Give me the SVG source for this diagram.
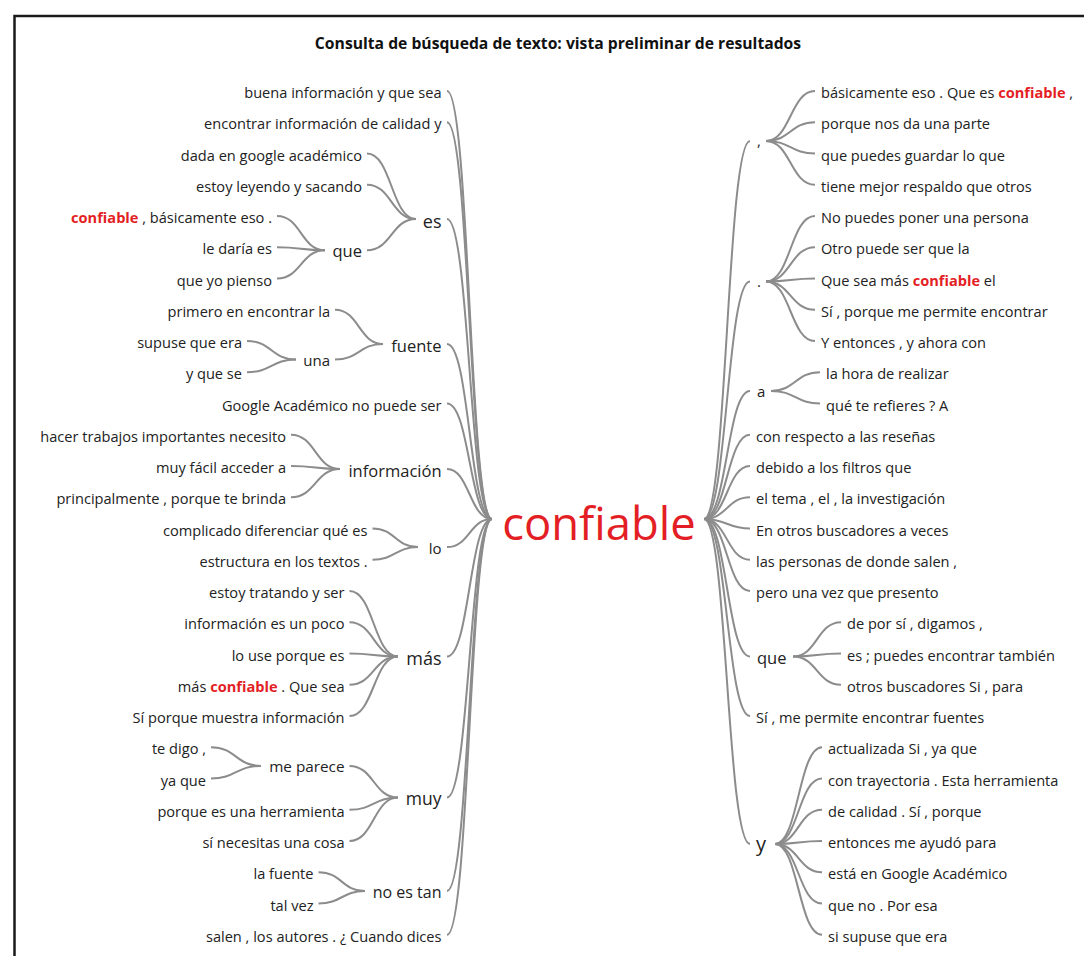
<svg xmlns="http://www.w3.org/2000/svg" width="1084" height="956" viewBox="0 0 1084 956">
<style>
text{font-family:"Open Sans","Noto Sans",sans-serif;font-size:14.6px;fill:#222;font-variant-ligatures:none}
.e{text-anchor:end}
.hl{font-weight:bold;fill:#e31e24}
.title{font-weight:bold;font-size:15.7px;text-anchor:middle;fill:#111}
.root{font-size:45.4px;fill:#e31e24;text-anchor:middle}
.c path{fill:none;stroke:#8c8c8c;stroke-width:2}
</style>
<rect width="1084" height="956" fill="#fff"/>
<path d="M14.5,956 V16 H1084" fill="none" stroke="#1a1a1a" stroke-width="2.5"/>
<text id="title" class="title" x="558" y="49">Consulta de búsqueda de texto: vista preliminar de resultados</text>

<g class="c" id="connectors">
<!-- left: root -->
<path d="M447,91 C469.5,91 469.5,519 492,519"/>
<path d="M447,122.25 C469.5,122.25 469.5,519 492,519"/>
<path d="M447,219 C469.5,219 469.5,519 492,519"/>
<path d="M447,344 C469.5,344 469.5,519 492,519"/>
<path d="M447,403.5 C469.5,403.5 469.5,519 492,519"/>
<path d="M447,469 C469.5,469 469.5,519 492,519"/>
<path d="M447,547.1 C469.5,547.1 469.5,519 492,519"/>
<path d="M447,656.5 C469.5,656.5 469.5,519 492,519"/>
<path d="M447,797.6 C469.5,797.6 469.5,519 492,519"/>
<path d="M447,891 C469.5,891 469.5,519 492,519"/>
<path d="M447,934.75 C469.5,934.75 469.5,519 492,519"/>
<!-- es -->
<path d="M367,153.5 C391.5,153.5 391.5,219 416,219"/>
<path d="M367,184.75 C391.5,184.75 391.5,219 416,219"/>
<path d="M367,250.25 C391.5,250.25 391.5,219 416,219"/>
<!-- que (left) -->
<path d="M277,216 C301,216 301,250.25 325,250.25"/>
<path d="M277,247.25 C301,247.25 301,250.25 325,250.25"/>
<path d="M277,278.5 C301,278.5 301,250.25 325,250.25"/>
<!-- fuente -->
<path d="M335,309.75 C359,309.75 359,344 383,344"/>
<path d="M335,359.6 C359,359.6 359,344 383,344"/>
<!-- una -->
<path d="M247,341 C271.5,341 271.5,359.6 296,359.6"/>
<path d="M247,372.25 C271.5,372.25 271.5,359.6 296,359.6"/>
<!-- informacion -->
<path d="M291,434.75 C315.5,434.75 315.5,469 340,469"/>
<path d="M291,466 C315.5,466 315.5,469 340,469"/>
<path d="M291,497.25 C315.5,497.25 315.5,469 340,469"/>
<!-- lo -->
<path d="M372.5,528.5 C395.25,528.5 395.25,547.1 418,547.1"/>
<path d="M372.5,559.75 C395.25,559.75 395.25,547.1 418,547.1"/>
<!-- mas -->
<path d="M349.5,591 C373.75,591 373.75,656.5 398,656.5"/>
<path d="M349.5,622.25 C373.75,622.25 373.75,656.5 398,656.5"/>
<path d="M349.5,653.5 C373.75,653.5 373.75,656.5 398,656.5"/>
<path d="M349.5,684.75 C373.75,684.75 373.75,656.5 398,656.5"/>
<path d="M349.5,716 C373.75,716 373.75,656.5 398,656.5"/>
<!-- muy -->
<path d="M349.5,765.9 C373.75,765.9 373.75,797.6 398,797.6"/>
<path d="M349.5,809.75 C373.75,809.75 373.75,797.6 398,797.6"/>
<path d="M349.5,841 C373.75,841 373.75,797.6 398,797.6"/>
<!-- me parece -->
<path d="M211,747.25 C236,747.25 236,765.9 261,765.9"/>
<path d="M211,778.5 C236,778.5 236,765.9 261,765.9"/>
<!-- no es tan -->
<path d="M318.5,872.25 C341.75,872.25 341.75,891 365,891"/>
<path d="M318.5,903.5 C341.75,903.5 341.75,891 365,891"/>

<!-- right: root -->
<path d="M704,519 C727,519 727,140.9 750,140.9"/>
<path d="M704,519 C727,519 727,281.5 750,281.5"/>
<path d="M704,519 C727,519 727,390.9 750,390.9"/>
<path d="M704,519 C727,519 727,434.75 750,434.75"/>
<path d="M704,519 C727,519 727,466 750,466"/>
<path d="M704,519 C727,519 727,497.25 750,497.25"/>
<path d="M704,519 C727,519 727,528.5 750,528.5"/>
<path d="M704,519 C727,519 727,559.75 750,559.75"/>
<path d="M704,519 C727,519 727,591 750,591"/>
<path d="M704,519 C727,519 727,656.5 750,656.5"/>
<path d="M704,519 C727,519 727,716 750,716"/>
<path d="M704,519 C727,519 727,844 750,844"/>
<!-- comma -->
<path d="M766,140.9 C790.5,140.9 790.5,91 815,91"/>
<path d="M766,140.9 C790.5,140.9 790.5,122.25 815,122.25"/>
<path d="M766,140.9 C790.5,140.9 790.5,153.5 815,153.5"/>
<path d="M766,140.9 C790.5,140.9 790.5,184.75 815,184.75"/>
<!-- period -->
<path d="M766,281.5 C790.5,281.5 790.5,216 815,216"/>
<path d="M766,281.5 C790.5,281.5 790.5,247.25 815,247.25"/>
<path d="M766,281.5 C790.5,281.5 790.5,278.5 815,278.5"/>
<path d="M766,281.5 C790.5,281.5 790.5,309.75 815,309.75"/>
<path d="M766,281.5 C790.5,281.5 790.5,341 815,341"/>
<!-- a -->
<path d="M771,390.9 C795.5,390.9 795.5,372.25 820,372.25"/>
<path d="M771,390.9 C795.5,390.9 795.5,403.5 820,403.5"/>
<!-- que (right) -->
<path d="M793,656.5 C817,656.5 817,622.25 841,622.25"/>
<path d="M793,656.5 C817,656.5 817,653.5 841,653.5"/>
<path d="M793,656.5 C817,656.5 817,684.75 841,684.75"/>
<!-- y -->
<path d="M775,844 C798.5,844 798.5,747.25 822,747.25"/>
<path d="M775,844 C798.5,844 798.5,778.5 822,778.5"/>
<path d="M775,844 C798.5,844 798.5,809.75 822,809.75"/>
<path d="M775,844 C798.5,844 798.5,841 822,841"/>
<path d="M775,844 C798.5,844 798.5,872.25 822,872.25"/>
<path d="M775,844 C798.5,844 798.5,903.5 822,903.5"/>
<path d="M775,844 C798.5,844 798.5,934.75 822,934.75"/>
</g>

<g id="n-root"><text class="root" x="599" y="540">confiable</text></g>

<!-- left side -->
<g id="n-l01"><text class="e" x="441.5" y="98">buena información y que sea</text></g>
<g id="n-l02"><text class="e" x="441.5" y="129.25">encontrar información de calidad y</text></g>
<g id="n-es"><text class="e" x="441.5" y="227.5" style="font-size:18px">es</text></g>
<g id="n-es1"><text class="e" x="362" y="160.5">dada en google académico</text></g>
<g id="n-es2"><text class="e" x="362" y="191.75">estoy leyendo y sacando</text></g>
<g id="n-que-l"><text class="e" x="362" y="257.25" style="font-size:16.5px">que</text></g>
<g id="n-que1"><text class="e" x="272" y="223"><tspan class="hl">confiable</tspan> , básicamente eso .</text></g>
<g id="n-que2"><text class="e" x="272" y="254.25">le daría es</text></g>
<g id="n-que3"><text class="e" x="272" y="285.5">que yo pienso</text></g>
<g id="n-fuente"><text class="e" x="441.5" y="351.5" style="font-size:16.5px">fuente</text></g>
<g id="n-fu1"><text class="e" x="330" y="316.75">primero en encontrar la</text></g>
<g id="n-una"><text class="e" x="330" y="366.1" style="font-size:15px">una</text></g>
<g id="n-una1"><text class="e" x="242" y="348">supuse que era</text></g>
<g id="n-una2"><text class="e" x="242" y="379.25">y que se</text></g>
<g id="n-l03"><text class="e" x="441.5" y="410.5">Google Académico no puede ser</text></g>
<g id="n-info"><text class="e" x="441.5" y="476.5" style="font-size:16.5px">información</text></g>
<g id="n-info1"><text class="e" x="286" y="441.75">hacer trabajos importantes necesito</text></g>
<g id="n-info2"><text class="e" x="286" y="473">muy fácil acceder a</text></g>
<g id="n-info3"><text class="e" x="286" y="504.25">principalmente , porque te brinda</text></g>
<g id="n-lo"><text class="e" x="441.5" y="553.6" style="font-size:15px">lo</text></g>
<g id="n-lo1"><text class="e" x="367.5" y="535.5">complicado diferenciar qué es</text></g>
<g id="n-lo2"><text class="e" x="367.5" y="566.75">estructura en los textos .</text></g>
<g id="n-mas"><text class="e" x="441.5" y="665" style="font-size:18px">más</text></g>
<g id="n-mas1"><text class="e" x="344.5" y="598">estoy tratando y ser</text></g>
<g id="n-mas2"><text class="e" x="344.5" y="629.25">información es un poco</text></g>
<g id="n-mas3"><text class="e" x="344.5" y="660.5">lo use porque es</text></g>
<g id="n-mas4"><text class="e" x="344.5" y="691.75">más <tspan class="hl">confiable</tspan> . Que sea</text></g>
<g id="n-mas5"><text class="e" x="344.5" y="723">Sí porque muestra información</text></g>
<g id="n-muy"><text class="e" x="441.5" y="805.1" style="font-size:17.5px">muy</text></g>
<g id="n-meparece"><text class="e" x="344.5" y="772.4" style="font-size:15.3px">me parece</text></g>
<g id="n-mp1"><text class="e" x="206" y="754.25">te digo ,</text></g>
<g id="n-mp2"><text class="e" x="206" y="785.5">ya que</text></g>
<g id="n-muy2"><text class="e" x="344.5" y="816.75">porque es una herramienta</text></g>
<g id="n-muy3"><text class="e" x="344.5" y="848">sí necesitas una cosa</text></g>
<g id="n-noestan"><text class="e" x="441.5" y="898.4" style="font-size:16px">no es tan</text></g>
<g id="n-net1"><text class="e" x="313.5" y="879.25">la fuente</text></g>
<g id="n-net2"><text class="e" x="313.5" y="910.5">tal vez</text></g>
<g id="n-l04"><text class="e" x="441.5" y="941.75">salen , los autores . ¿ Cuando dices</text></g>

<!-- right side -->
<g id="n-comma"><text x="757" y="146.4" style="font-size:15px">,</text></g>
<g id="n-c1"><text x="821" y="98">básicamente eso . Que es <tspan class="hl">confiable</tspan> ,</text></g>
<g id="n-c2"><text x="821" y="129.25">porque nos da una parte</text></g>
<g id="n-c3"><text x="821" y="160.5">que puedes guardar lo que</text></g>
<g id="n-c4"><text x="821" y="191.75">tiene mejor respaldo que otros</text></g>
<g id="n-period"><text x="757" y="287" style="font-size:15px">.</text></g>
<g id="n-p1"><text x="821" y="223">No puedes poner una persona</text></g>
<g id="n-p2"><text x="821" y="254.25">Otro puede ser que la</text></g>
<g id="n-p3"><text x="821" y="285.5">Que sea más <tspan class="hl">confiable</tspan> el</text></g>
<g id="n-p4"><text x="821" y="316.75">Sí , porque me permite encontrar</text></g>
<g id="n-p5"><text x="821" y="348">Y entonces , y ahora con</text></g>
<g id="n-a"><text x="757" y="396.9" style="font-size:15px">a</text></g>
<g id="n-a1"><text x="826" y="379.25">la hora de realizar</text></g>
<g id="n-a2"><text x="826" y="410.5">qué te refieres ? A</text></g>
<g id="n-r01"><text x="756" y="441.75">con respecto a las reseñas</text></g>
<g id="n-r02"><text x="756" y="473">debido a los filtros que</text></g>
<g id="n-r03"><text x="756" y="504.25">el tema , el , la investigación</text></g>
<g id="n-r04"><text x="756" y="535.5">En otros buscadores a veces</text></g>
<g id="n-r05"><text x="756" y="566.75">las personas de donde salen ,</text></g>
<g id="n-r06"><text x="756" y="598">pero una vez que presento</text></g>
<g id="n-que-r"><text x="757" y="663.5" style="font-size:16.5px">que</text></g>
<g id="n-q1"><text x="847" y="629.25">de por sí , digamos ,</text></g>
<g id="n-q2"><text x="847" y="660.5">es ; puedes encontrar también</text></g>
<g id="n-q3"><text x="847" y="691.75">otros buscadores Si , para</text></g>
<g id="n-r07"><text x="756" y="723">Sí , me permite encontrar fuentes</text></g>
<g id="n-y"><text x="756" y="851" style="font-size:20px">y</text></g>
<g id="n-y1"><text x="828" y="754.25">actualizada Si , ya que</text></g>
<g id="n-y2"><text x="828" y="785.5">con trayectoria . Esta herramienta</text></g>
<g id="n-y3"><text x="828" y="816.75">de calidad . Sí , porque</text></g>
<g id="n-y4"><text x="828" y="848">entonces me ayudó para</text></g>
<g id="n-y5"><text x="828" y="879.25">está en Google Académico</text></g>
<g id="n-y6"><text x="828" y="910.5">que no . Por esa</text></g>
<g id="n-y7"><text x="828" y="941.75">si supuse que era</text></g>
</svg>
